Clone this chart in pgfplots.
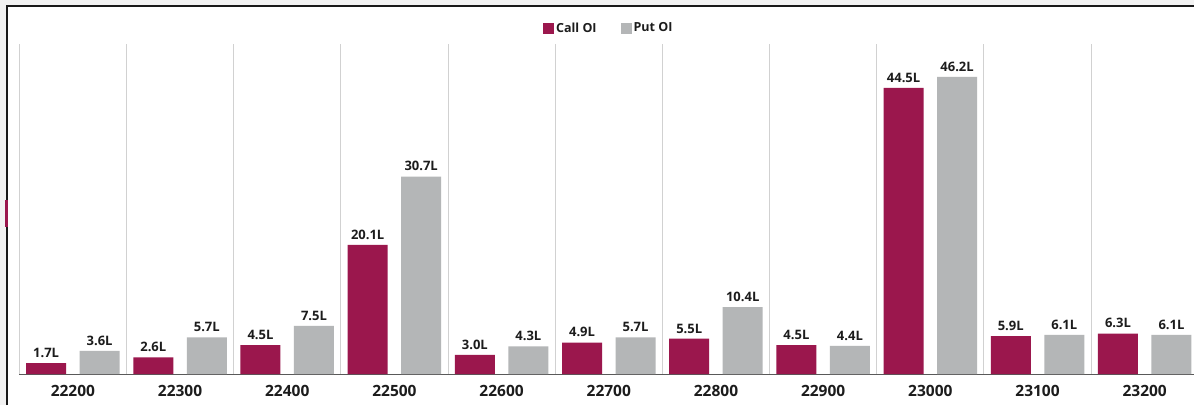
\documentclass[border=0pt]{standalone}
\usepackage{fontspec}
\setmainfont{Open Sans}
\usepackage{pgfplots}
\pgfplotsset{compat=1.18}
\definecolor{callc}{RGB}{155,23,77}
\definecolor{putc}{RGB}{180,182,183}
\definecolor{txt}{RGB}{28,28,28}
\begin{document}
\begin{tikzpicture}[x=1pt,y=1pt]
\useasboundingbox (0,0) rectangle (1194,405);
\fill[black!5] (0,0) rectangle (1194,405);
\fill[white] (8,0) rectangle (1194,397.5);
\draw[line width=2pt,black!90] (7,0) -- (7,398.5) -- (1194,398.5);
\fill[callc] (5,178) rectangle (7.5,205);
\begin{scope}
\clip (8,0) rectangle (1194,397);
\begin{axis}[
  at={(18,48)}, anchor=south west,
  scale only axis, width=1179pt, height=330pt,
  xmin=-0.5, xmax=10.5, ymin=0, ymax=51.3,
  ybar, bar width=40pt,
  axis x line*=bottom, axis y line=none,
  axis line style={black!65, line width=1pt},
  xtick={0,1,2,3,4,5,6,7,8,9,10},
  xticklabels={22200,22300,22400,22500,22600,22700,22800,22900,23000,23100,23200},
  major tick length=0pt, minor tick length=0pt,
  minor xtick={-0.5,0.5,1.5,2.5,3.5,4.5,5.5,6.5,7.5,8.5,9.5,10.5},
  xminorgrids=true,
  minor grid style={black!18, line width=1pt},
  /pgf/number format/assume math mode=true,
  xticklabel style={font=\bfseries\fontsize{15.5}{18}\selectfont, text=txt, yshift=-8pt},
  nodes near coords={\pgfmathprintnumber[fixed,fixed zerofill,precision=1]{\pgfplotspointmeta}L},
  nodes near coords style={font=\bfseries\fontsize{13}{15}\selectfont, text=txt, yshift=2pt},
  legend style={at={(0.5,1)}, anchor=center, yshift=16pt, draw=none, fill=none,
    font=\bfseries\fontsize{12.5}{14}\selectfont, text=txt,
    /tikz/every even column/.append style={column sep=22pt}},
  legend columns=2,
  legend image code/.code={\fill[#1] (0pt,-5.5pt) rectangle (11pt,5.5pt);},
]
\addplot[fill=callc, draw=none, bar shift=-26.75pt] coordinates {
(0,1.7) (1,2.6) (2,4.5) (3,20.1) (4,3.0) (5,4.9) (6,5.5) (7,4.5) (8,44.5) (9,5.9) (10,6.3)};
\addplot[fill=putc, draw=none, bar shift=26.75pt] coordinates {
(0,3.6) (1,5.7) (2,7.5) (3,30.7) (4,4.3) (5,5.7) (6,10.4) (7,4.4) (8,46.2) (9,6.1) (10,6.1)};
\legend{Call OI, Put OI}
\end{axis}
\end{scope}
\end{tikzpicture}
\end{document}
